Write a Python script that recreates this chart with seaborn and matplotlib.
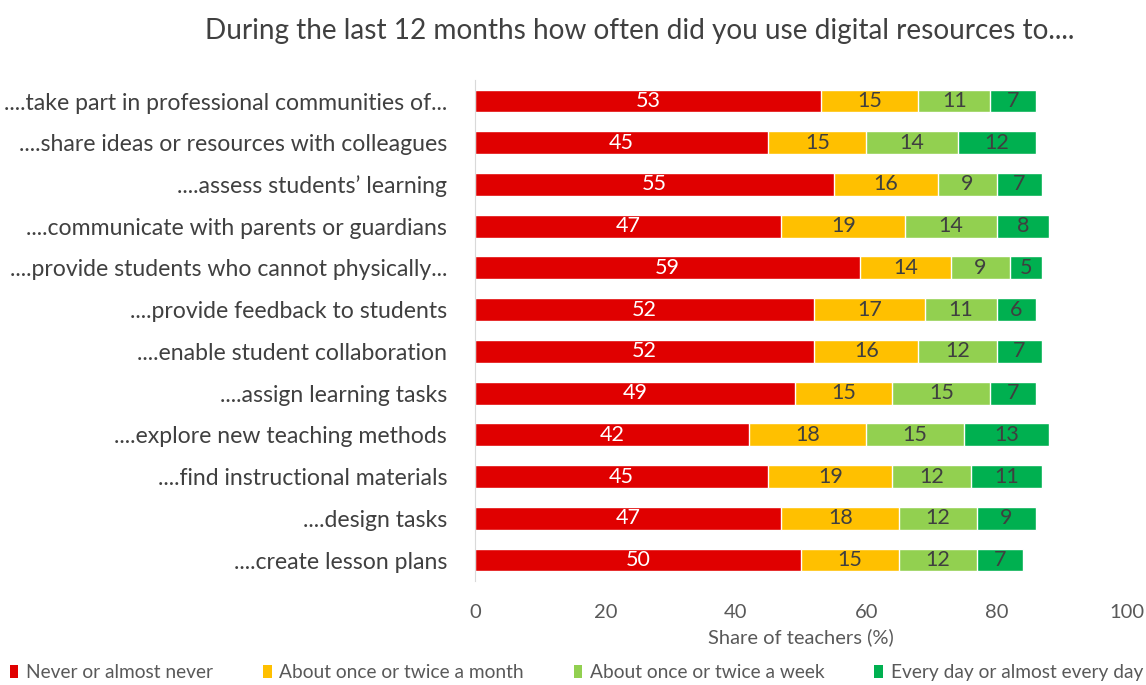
import numpy as np
import pandas as pd
import matplotlib
matplotlib.use("Agg")
import matplotlib.pyplot as plt
import seaborn as sns
from matplotlib.patches import Patch

categories = [
    "....take part in professional communities of...",
    "....share ideas or resources with colleagues",
    "....assess students\u2019 learning",
    "....communicate with parents or guardians",
    "....provide students who cannot physically...",
    "....provide feedback to students",
    "....enable student collaboration",
    "....assign learning tasks",
    "....explore new teaching methods",
    "....find instructional materials",
    "....design tasks",
    "....create lesson plans",
]
never = [53, 45, 55, 47, 59, 52, 52, 49, 42, 45, 47, 50]
monthly = [15, 15, 16, 19, 14, 17, 16, 15, 18, 19, 18, 15]
weekly = [11, 14, 9, 14, 9, 11, 12, 15, 15, 12, 12, 12]
daily = [7, 12, 7, 8, 5, 6, 7, 7, 13, 11, 9, 7]
series_names = [
    "Never or almost never",
    "About once or twice a month",
    "About once or twice a week",
    "Every day or almost every day",
]
colors = ["#E00000", "#FFC000", "#92D050", "#00B050"]
text_colors = ["white", "#3F3F3F", "#3F3F3F", "#3F3F3F"]
xticks = [0, 20, 40, 60, 80, 100]

sns.set_theme(style="white")
plt.rcParams["font.family"] = ["Lato", "DejaVu Sans"]

values = np.array([never, monthly, weekly, daily], dtype=float)
cum = np.cumsum(values, axis=0)

fig = plt.figure(figsize=(11.46, 6.85), dpi=100)
ax = fig.add_axes([0.4145, 0.152, 0.569, 0.731])

# stacked bars: draw cumulative totals from the outermost segment inward
for i in range(3, -1, -1):
    df = pd.DataFrame({"category": categories, "value": cum[i]})
    sns.barplot(data=df, y="category", x="value", orient="h", color=colors[i],
                saturation=1, width=0.55, ax=ax, order=categories)

for i in range(4):
    for j, cat in enumerate(categories):
        start = cum[i][j] - values[i][j]
        mid = start + values[i][j] / 2
        ax.text(mid, j, f"{int(values[i][j])}", ha="center", va="center",
                fontsize=15.5, color=text_colors[i])

ax.set_xlim(0, 100)
ax.set_ylim(len(categories) - 0.5, -0.5)
ax.set_xticks(xticks)
ax.set_xticklabels([str(t) for t in xticks], fontsize=14.5, color="#595959")
ax.tick_params(axis="x", length=0, pad=17)
ax.tick_params(axis="y", length=0, pad=20, labelsize=16.6, labelcolor="#404040")
ax.set_ylabel("")
ax.set_xlabel("Share of teachers (%)", fontsize=14.5, color="#595959", labelpad=5)
for s in ["top", "right", "bottom"]:
    ax.spines[s].set_visible(False)
ax.spines["left"].set_color("#D9D9D9")
ax.spines["left"].set_linewidth(0.8)

fig.text(0.558, 0.955, "During the last 12 months how often did you use digital resources to....",
         ha="center", va="center", fontsize=20.2, color="#404040")

handles = [Patch(facecolor=c, edgecolor="none") for c in colors]
fig.legend(handles, series_names, loc="lower center", bbox_to_anchor=(0.503, -0.02),
           ncol=4, frameon=False, fontsize=13.8, handlelength=0.45, handleheight=0.7,
           handletextpad=0.4, columnspacing=2.6, labelcolor="#595959")

fig.savefig("out.png", dpi=100)
